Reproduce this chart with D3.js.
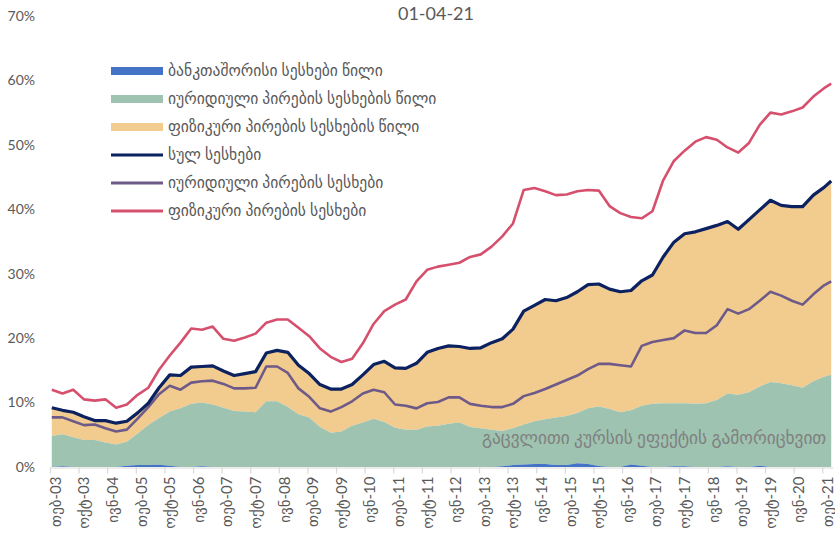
<!DOCTYPE html>
<html><head><meta charset="utf-8">
<script src="https://cdn.jsdelivr.net/npm/d3@7/dist/d3.min.js"></script>
<style>
body{margin:0;background:#fff}
text{font-family:Lato,"DejaVu Sans",sans-serif}
</style>
</head><body>
<svg id="chart" width="835" height="545"></svg>
<script>
const titleText = "01-04-21";
const noteText = "გაცვლითი კურსის ეფექტის გამორიცხვით";
// month offset from Feb-2003 (category index)
const monthIndex = [0,3,6,9,12,15,18,21,24,27,30,33,36,39,42,45,48,51,54,57,60,63,66,69,72,75,78,81,84,87,90,93,96,99,102,105,108,111,114,117,120,123,126,129,132,135,138,141,144,147,150,153,156,159,162,165,168,171,174,177,180,183,186,189,192,195,198,201,204,207,210,213,216,218];
const categoryCount = 219;

const bankShare = [0,0.1,0,0,0,0,0,0.2,0.3,0.3, 0.35,0.2,0,0,0.1,0,0,0,0,0, 0,0,0,0,0,0,0,0,0,0, 0,0,0,0,0,0,0,0,0,0, 0,0,0.1,0.3,0.4,0.45,0.45,0.3,0.3,0.6, 0.45,0.15,0,0,0.4,0.2,0,0,0.1,0.1, 0,0,0,0.1,0,0,0.2,0,0,0, 0,0,0,0];
const legalShare = [4.8,5.0,4.6,4.2,4.2,3.8,3.5,3.7,4.9,6.2, 7.25,8.4,9.1,9.8,9.9,9.7,9.2,8.7,8.6,8.5, 10.2,10.2,9.3,8.2,7.7,6.2,5.3,5.5,6.4,6.9, 7.5,7.0,6.1,5.8,5.8,6.3,6.4,6.7,6.9,6.2, 6.0,5.8,5.5,5.7,6.2,6.65,6.95,7.4,7.6,7.8, 8.65,9.25,9.0,8.5,8.4,9.3,9.8,9.9,9.8,9.8, 9.8,9.9,10.4,11.3,11.2,11.6,12.3,13.2,13.0,12.7, 12.3,13.3,14.0,14.3];
const physShare = [4.4,3.7,3.9,3.6,3.0,3.4,3.3,3.2,3.2,3.4, 4.7,5.7,5.1,5.7,5.6,6.0,5.7,5.5,5.9,6.3, 7.5,7.9,8.5,7.6,6.8,6.6,6.8,6.6,6.4,7.4, 8.4,9.4,9.3,9.5,10.3,11.5,12.0,12.1,11.8,12.2, 12.5,13.5,14.3,15.4,17.6,18.0,18.6,18.1,18.4,18.8, 19.2,19.0,18.6,18.7,18.6,19.4,20.0,22.7,25.0,26.3, 26.7,27.1,27.1,26.7,25.7,26.8,27.4,28.2,27.6,27.7, 28.1,28.9,29.4,30.1];
const totalLoans = [9.2,8.8,8.5,7.8,7.2,7.2,6.8,7.1,8.4,9.9, 12.3,14.3,14.2,15.5,15.6,15.7,14.9,14.2,14.5,14.8, 17.7,18.1,17.8,15.8,14.5,12.8,12.1,12.1,12.8,14.3, 15.9,16.4,15.4,15.3,16.1,17.8,18.4,18.8,18.7,18.4, 18.5,19.3,19.9,21.4,24.2,25.1,26.0,25.8,26.3,27.2, 28.3,28.4,27.6,27.2,27.4,28.9,29.8,32.6,34.9,36.2, 36.5,37.0,37.5,38.1,36.9,38.4,39.9,41.4,40.6,40.4, 40.4,42.2,43.4,44.4];
const legalLoans = [7.7,7.7,7.1,6.5,6.6,6.0,5.5,5.8,7.5,9.3, 11.3,12.6,12.0,13.1,13.3,13.4,12.9,12.2,12.2,12.3, 15.6,15.6,14.6,12.2,10.9,9.1,8.6,9.3,10.2,11.4, 12.0,11.6,9.7,9.5,9.1,9.9,10.1,10.8,10.8,9.8, 9.5,9.3,9.3,9.8,11.0,11.5,12.1,12.8,13.5,14.2, 15.2,16.0,16.0,15.8,15.6,18.8,19.4,19.7,20.0,21.2, 20.8,20.8,22.0,24.5,23.8,24.5,25.8,27.2,26.6,25.8, 25.2,26.8,28.2,28.8];
const physLoans = [12.0,11.4,12.0,10.5,10.3,10.5,9.2,9.7,11.2,12.3, 15.1,17.3,19.3,21.5,21.3,21.8,19.9,19.6,20.1,20.7, 22.4,22.9,22.9,21.6,20.3,18.4,17.1,16.3,16.8,19.2, 22.2,24.2,25.2,26.0,28.8,30.6,31.1,31.4,31.7,32.6, 33.0,34.2,35.8,37.8,43.0,43.3,42.8,42.2,42.3,42.8, 43.0,42.9,40.5,39.4,38.8,38.6,39.7,44.5,47.5,49.1, 50.5,51.2,50.8,49.6,48.8,50.3,53.1,55.0,54.7,55.2, 55.8,57.5,58.8,59.5];

const tickIndex = [0,8,16,24,32,40,48,56,64,72,80,88,96,104,112,120,128,136,144,152,160,168,176,184,192,200,208,216];
const tickLabels = ["თებ-03","ოქტ-03","ივნ-04","თებ-05","ოქტ-05","ივნ-06","თებ-07","ოქტ-07","ივნ-08","თებ-09","ოქტ-09","ივნ-10","თებ-11","ოქტ-11","ივნ-12","თებ-13","ოქტ-13","ივნ-14","თებ-15","ოქტ-15","ივნ-16","თებ-17","ოქტ-17","ივნ-18","თებ-19","ოქტ-19","ივნ-20","თებ-21"];
const yTicks = [0,10,20,30,40,50,60,70];

const legendNames = ["ბანკთაშორისი სესხები წილი","იურიდიული პირების სესხების წილი","ფიზიკური პირების სესხების წილი","სულ სესხები","იურიდიული პირების სესხები","ფიზიკური პირების სესხები"];
const legendColors = ["#4472C4","#9EC3B0","#F2CB8F","#0B2160","#6E5A88","#D6506D"];
const legendKinds = ["area","area","area","line","line","line"];

const svg = d3.select("#chart");
const x = d3.scaleLinear().domain([0, categoryCount]).range([50, 833]);
const y = d3.scaleLinear().domain([0, 70]).range([467, 16]);
const cx = m => x(m + 0.5);

const table = monthIndex.map((m, i) => ({m, bank: bankShare[i], legal: legalShare[i], phys: physShare[i]}));
const stack = d3.stack().keys(["bank","legal","phys"]);
const layers = stack(table);
const areaColors = {bank: legendColors[0], legal: legendColors[1], phys: legendColors[2]};
const area = d3.area().x(d => cx(d.data.m)).y0(d => y(d[0])).y1(d => y(d[1]));

[...layers].reverse().forEach(L => {
  svg.append("path").attr("d", area(L)).attr("fill", areaColors[L.key]);
});

// note text
svg.append("text").attr("x", 482).attr("y", 444).attr("fill", "#808080")
  .style("font-size", "17.3px").text(noteText);

const line = d3.line().x((d, i) => cx(monthIndex[i])).y(d => y(d));
[[physLoans, legendColors[5], 2.6], [legalLoans, legendColors[4], 2.6], [totalLoans, legendColors[3], 3.2]].forEach(([vals, col, w]) => {
  svg.append("path").attr("d", line(vals)).attr("fill", "none").attr("stroke", col)
    .attr("stroke-width", w).attr("stroke-linejoin", "round");
});

// x axis
const xAxis = d3.axisBottom(x).tickValues(tickIndex).tickFormat((d, i) => tickLabels[i]).tickSize(6).tickSizeOuter(0);
const gx = svg.append("g").attr("transform", "translate(0,467.5)").call(xAxis);
gx.select(".domain").attr("stroke", "#D9D9D9").attr("stroke-width", 1.2);
gx.selectAll(".tick line").attr("stroke", "#D9D9D9").attr("stroke-width", 1.2);
gx.selectAll(".tick text").attr("fill", "#595959").style("font-size", "15px")
  .attr("transform", "rotate(-90)").attr("x", -9).attr("y", 5).attr("dy", "0.35em")
  .style("text-anchor", "end");

// y labels
svg.append("g").selectAll("text").data(yTicks).join("text")
  .attr("x", 35).attr("y", d => y(d)).attr("dy", "0.35em").attr("text-anchor", "end")
  .attr("fill", "#595959").style("font-size", "14px").text(d => d + "%");

// title
svg.append("text").attr("x", 436).attr("y", 20).attr("text-anchor", "middle")
  .attr("fill", "#595959").style("font-size", "18px").text(titleText);

// legend
const lg = svg.append("g");
legendNames.forEach((name, i) => {
  const yy = 71 + i * 28;
  if (legendKinds[i] === "area") {
    lg.append("rect").attr("x", 111).attr("y", yy - 4).attr("width", 52).attr("height", 8).attr("fill", legendColors[i]);
  } else {
    lg.append("line").attr("x1", 111).attr("x2", 163).attr("y1", yy).attr("y2", yy)
      .attr("stroke", legendColors[i]).attr("stroke-width", 3);
  }
  lg.append("text").attr("x", 168).attr("y", yy).attr("dy", "0.35em").attr("fill", "#595959")
    .style("font-size", "15.6px").text(name);
});
</script>
</body></html>
